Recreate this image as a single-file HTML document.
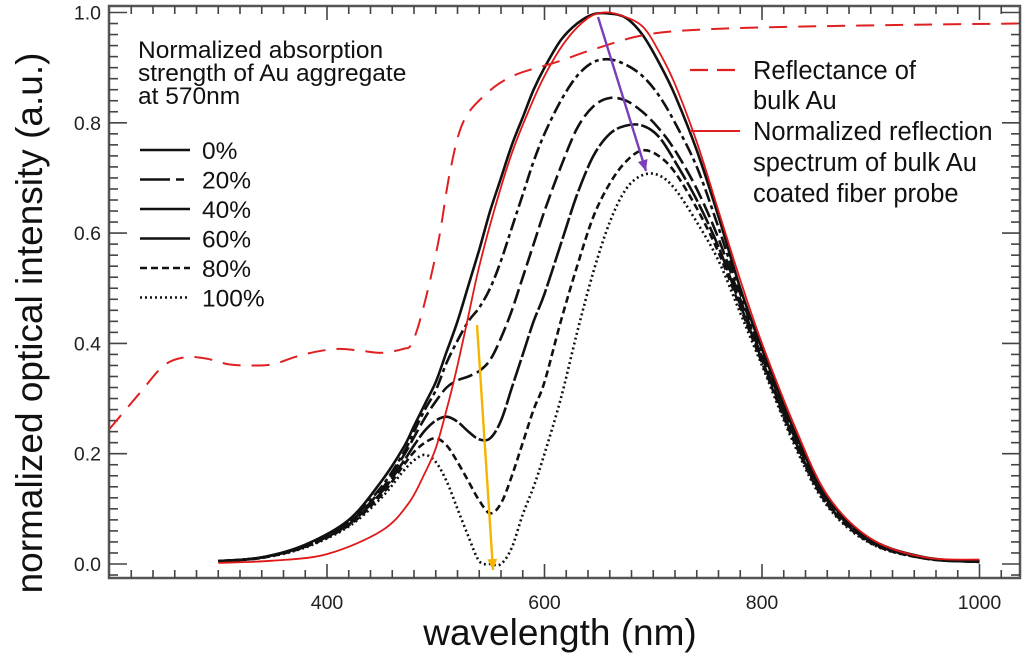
<!DOCTYPE html>
<html><head><meta charset="utf-8"><style>
html,body{margin:0;padding:0;background:#fff;}
svg{display:block;font-family:"Liberation Sans",Arial,sans-serif;}
</style></head><body>
<svg id="chart" width="1024" height="655" viewBox="0 0 1024 655" xmlns="http://www.w3.org/2000/svg">
<g id="grid-layer"></g>
<g id="series-layer"></g>
<g id="legend-left" font-size="24.5" fill="#111">
  <text x="138" y="58">Normalized absorption</text>
  <text x="138" y="81">strength of Au aggregate</text>
  <text x="138" y="104">at 570nm</text>
</g>
<g id="legend-right" font-size="25.5" fill="#111">
  <line x1="690" y1="70" x2="740" y2="70" stroke="#e02020" stroke-width="2.2" stroke-dasharray="18,9"/>
  <text x="753" y="79">Reflectance of</text>
  <text x="753" y="109">bulk Au</text>
  <line x1="690" y1="131" x2="740" y2="131" stroke="#e02020" stroke-width="2"/>
  <text x="753" y="140">Normalized reflection</text>
  <text x="753" y="171">spectrum of bulk Au</text>
  <text x="753" y="202">coated fiber probe</text>
</g>
<text x="42" y="323" font-size="37" fill="#111" text-anchor="middle" transform="rotate(-90 42 323)">normalized optical intensity (a.u.)</text>
<text x="560" y="645" font-size="37" fill="#111" text-anchor="middle">wavelength (nm)</text>
</svg>
<script>
const xTicks = [400, 600, 800, 1000];
const yTicks = [0.0, 0.2, 0.4, 0.6, 0.8, 1.0];
const yTickLabels = ["0.0", "0.2", "0.4", "0.6", "0.8", "1.0"];
const legendLabels = ["0%", "20%", "40%", "60%", "80%", "100%"];
const wl = [300,340,380,420,450,470,480,490,500,510,520,530,540,550,560,570,580,590,600,615,630,645,660,675,690,705,720,740,760,780,800,830,860,900,950,1000];
const s0 = [0.005,0.012,0.035,0.08,0.15,0.21,0.25,0.29,0.33,0.385,0.44,0.505,0.57,0.64,0.70,0.76,0.81,0.86,0.90,0.95,0.98,0.997,0.998,0.99,0.96,0.91,0.85,0.75,0.63,0.50,0.39,0.24,0.12,0.045,0.012,0.005];
const s20 = [0.005,0.012,0.034,0.077,0.14,0.2,0.24,0.28,0.315,0.365,0.405,0.44,0.465,0.50,0.55,0.61,0.67,0.73,0.78,0.84,0.885,0.91,0.915,0.905,0.885,0.85,0.80,0.72,0.61,0.49,0.38,0.235,0.115,0.042,0.011,0.004];
const s40 = [0.005,0.012,0.033,0.075,0.135,0.195,0.23,0.265,0.295,0.32,0.333,0.34,0.35,0.37,0.41,0.46,0.52,0.58,0.64,0.72,0.79,0.83,0.845,0.84,0.82,0.79,0.75,0.68,0.59,0.48,0.375,0.23,0.115,0.04,0.011,0.004];
const s60 = [0.005,0.012,0.032,0.072,0.13,0.185,0.215,0.242,0.26,0.267,0.258,0.24,0.226,0.228,0.26,0.32,0.38,0.44,0.49,0.58,0.67,0.74,0.78,0.795,0.795,0.775,0.73,0.66,0.575,0.47,0.37,0.225,0.11,0.04,0.01,0.004];
const s80 = [0.005,0.011,0.031,0.07,0.125,0.178,0.203,0.22,0.228,0.215,0.185,0.15,0.115,0.092,0.11,0.16,0.22,0.28,0.33,0.44,0.54,0.63,0.69,0.73,0.75,0.74,0.71,0.645,0.565,0.465,0.365,0.22,0.108,0.038,0.01,0.004];
const s100 = [0.005,0.011,0.03,0.068,0.12,0.168,0.188,0.198,0.185,0.15,0.10,0.05,0.005,0,0,0.03,0.09,0.14,0.20,0.30,0.42,0.53,0.62,0.68,0.705,0.705,0.68,0.62,0.55,0.455,0.36,0.215,0.105,0.037,0.01,0.004];
const redWl = [300,350,400,450,475,490,500,510,520,530,540,555,570,585,600,620,640,655,670,690,705,720,740,760,780,800,830,860,900,950,1000];
const redVal = [0.002,0.006,0.018,0.06,0.11,0.165,0.21,0.28,0.36,0.45,0.54,0.65,0.745,0.82,0.885,0.95,0.99,1.0,0.995,0.975,0.93,0.87,0.765,0.64,0.515,0.40,0.25,0.125,0.046,0.012,0.008];
const reflWl = [200,215,230,250,270,290,310,330,350,370,390,410,430,450,470,478,488,502,513,525,545,571,611,648,694,755,850,950,1035];
const reflVal = [0.245,0.28,0.315,0.36,0.375,0.372,0.362,0.36,0.362,0.375,0.385,0.39,0.387,0.383,0.39,0.40,0.46,0.58,0.71,0.80,0.85,0.885,0.91,0.935,0.96,0.97,0.975,0.978,0.98];

const NS = "http://www.w3.org/2000/svg";
const L = 109, R = 1020, T = 6, B = 578;
function xs(nm){ return 327 + (nm - 400) * 1.0875; }
function ys(v){ return 564 - v * 551.5; }
const gAx = document.getElementById('grid-layer');
const gS = document.getElementById('series-layer');
function mk(tag, attrs, parent){
  const e = document.createElementNS(NS, tag);
  for (const k in attrs) e.setAttribute(k, attrs[k]);
  parent.appendChild(e);
  return e;
}
function smooth(xsArr, ysArr){
  const p = xsArr.map((x,i)=>[xs(x), ys(ysArr[i])]);
  let d = "M" + p[0][0].toFixed(1) + "," + p[0][1].toFixed(1);
  for (let i=0;i<p.length-1;i++){
    const p0=p[Math.max(0,i-1)], p1=p[i], p2=p[i+1], p3=p[Math.min(p.length-1,i+2)];
    const c1x=p1[0]+(p2[0]-p0[0])/6, c1y=p1[1]+(p2[1]-p0[1])/6;
    const c2x=p2[0]-(p3[0]-p1[0])/6, c2y=p2[1]-(p3[1]-p1[1])/6;
    d += " C"+c1x.toFixed(1)+","+c1y.toFixed(1)+" "+c2x.toFixed(1)+","+c2y.toFixed(1)+" "+p2[0].toFixed(1)+","+p2[1].toFixed(1);
  }
  return d;
}
const defs = mk('defs', {}, gAx);
const cp = mk('clipPath', {id:'plotclip'}, defs);
mk('rect', {x:L, y:T, width:R-L, height:B-T}, cp);

const frame = mk('rect', {x:L, y:T, width:R-L, height:B-T, fill:'none', stroke:'#555', 'stroke-width':2.5}, gAx);



for (let nm=220; nm<=1030; nm+=20){
  const major = (nm % 200 === 0);
  const len = major ? 14 : 8;
  const x = xs(nm);
  const t1 = mk('line', {x1:x, y1:B, x2:x, y2:B-len, stroke:'#444', 'stroke-width':1.6}, gAx);
  
  
  const t2 = mk('line', {x1:x, y1:T, x2:x, y2:T+len, stroke:'#444', 'stroke-width':1.6}, gAx);
  
  
}
xTicks.forEach(v=>{
  const t = mk('text', {x:xs(v), y:609, 'font-size':19.5, fill:'#222', 'text-anchor':'middle'}, gAx);
  t.textContent = String(v);
  
  
});
for (let i=-1; i<=50; i++){
  const v = i*0.02;
  const y = ys(v);
  if (y > B || y < T) continue;
  const major = (i % 10 === 0);
  const len = major ? 18 : 9;
  const t1 = mk('line', {x1:L, y1:y, x2:L+len, y2:y, stroke:'#444', 'stroke-width':1.6}, gAx);
  
  
  const t2 = mk('line', {x1:R, y1:y, x2:R-len, y2:y, stroke:'#444', 'stroke-width':1.6}, gAx);
  
  
}
yTicks.forEach((v,i)=>{
  const t = mk('text', {x:101, y:ys(v)+7, 'font-size':19.5, fill:'#222', 'text-anchor':'end'}, gAx);
  t.textContent = yTickLabels[i];
  
  
});

const series = [s0, s20, s40, s60, s80, s100];
const dashes = ["", "13,4,4,4", "15,5", "22,3", "7,4", "2,3"];
const names = ["series-0pct","series-20pct","series-40pct","series-60pct","series-80pct","series-100pct"];
const cg = mk('g', {'clip-path':'url(#plotclip)'}, gS);
series.forEach((s,i)=>{
  const p = mk('path', {d:smooth(wl, s), fill:'none', stroke:'#111', 'stroke-width':2.6}, cg);
  if (dashes[i]) p.setAttribute('stroke-dasharray', dashes[i]);
  
  
});
const red = mk('path', {d:smooth(redWl, redVal), fill:'none', stroke:'#e01818', 'stroke-width':1.8}, cg);


const refl = mk('path', {d:smooth(reflWl, reflVal), fill:'none', stroke:'#e02020', 'stroke-width':2, 'stroke-dasharray':'18,11'}, cg);



function arrow(x1,y1,x2,y2,color,name){
  const g = mk('g', {}, gS);
  
  
  mk('line', {x1:x1,y1:y1,x2:x2,y2:y2,stroke:color,'stroke-width':2.4}, g);
  const a = Math.atan2(y2-y1, x2-x1), h=11, w=5;
  const bx = x2 - h*Math.cos(a), by = y2 - h*Math.sin(a);
  const pts = [x2+","+y2, (bx+w*Math.sin(a))+","+(by-w*Math.cos(a)), (bx-w*Math.sin(a))+","+(by+w*Math.cos(a))];
  mk('polygon', {points:pts.join(" "), fill:color}, g);
}
arrow(598, 17, 646, 171, '#7a3fb8', 'purple-arrow');
arrow(477, 325, 493, 570, '#f5b400', 'yellow-arrow');

const lg = document.getElementById('legend-left');
legendLabels.forEach((lab,i)=>{
  const y = 150 + i*29.5;
  const ln = mk('line', {x1:140, y1:y, x2:190, y2:y, stroke:'#111', 'stroke-width':2.6}, lg);
  if (dashes[i]) ln.setAttribute('stroke-dasharray', i===1 ? "30,6,8,6" : (i===2 || i===3 ? "50,0" : dashes[i]));
  
  
  const t = mk('text', {x:202, y:y+9}, lg);
  t.textContent = lab;
  
  
});
</script>
</body></html>
